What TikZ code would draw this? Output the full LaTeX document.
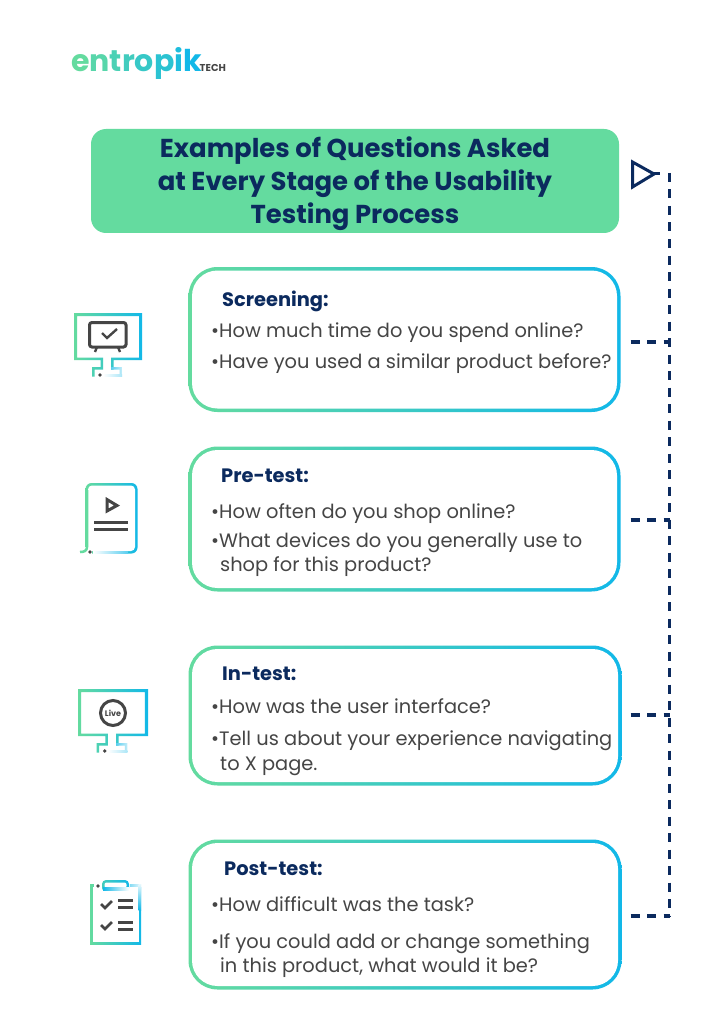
\documentclass[tikz,border=0pt]{standalone}
\usepackage{fontspec}
\setmainfont{Poppins}
\usetikzlibrary{shapes.geometric}
\definecolor{navy}{HTML}{0B2A5E}
\definecolor{mint}{HTML}{64DB9F}
\definecolor{aqua}{HTML}{12B8E8}
\definecolor{ink}{HTML}{454545}
\tikzset{
  pics/screen/.style={code={
    \shade[left color=mint, right color=aqua]
      (0,0) rectangle (68,3) (0,0) rectangle (3,47) (65,0) rectangle (68,47)
      (0,44.5) rectangle (29,47) (37,44.5) rectangle (68,47)
      (26.5,44.5) rectangle (29,56.5) (37,44.5) rectangle (39.5,56.5)
      (18,54) rectangle (29,56.5) (18,54) rectangle (20.5,63.5);
    \shade[left color=aqua!70, right color=aqua!25] (37,54) rectangle (48,56.5) (45.5,54) rectangle (48,63.5);
    \shade[left color=white, right color=aqua!35] (29,61) rectangle (48,63.5);
    \fill[ink] (26,62) circle (1.8pt);
  }}
}
\begin{document}
\begin{tikzpicture}[x=1pt, y=-1pt]
        \tikzstyle{gradbox}=[rounded corners=29pt, left color=mint, middle color=mint!45!aqua, right color=aqua, inner sep=0pt]
        \tikzstyle{innerbox}=[rounded corners=25.5pt, fill=white, inner sep=0pt]
        \tikzstyle{titlebox}=[rounded corners=15pt, fill=mint, inner sep=0pt]
        \tikzstyle{ttl}=[font=\fontsize{25.9}{30}\selectfont\bfseries, text=navy, anchor=base]
        \tikzstyle{hd}=[font=\fontsize{19.4}{23}\selectfont\bfseries, text=navy, anchor=base west, inner sep=0pt]
        \tikzstyle{ln}=[font=\fontsize{19.4}{23}\selectfont, text=ink, anchor=base west, inner sep=0pt]
        \tikzstyle{glyph}=[line width=3pt, draw=ink]
        \tikzstyle{late}=[navy, line width=3.6pt, dash pattern=on 9pt off 7.5pt]

        \useasboundingbox (0,0) rectangle (709,1024);
        \fill[white] (0,0) rectangle (709,1024);

        \node[anchor=base west, inner sep=0pt, font=\fontsize{30}{34}\selectfont\bfseries] (LOGO) at (71,72)
          {\textcolor{mint}{e}\textcolor{mint!85!aqua}{n}\textcolor{mint!70!aqua}{t}\textcolor{mint!58!aqua}{r}\textcolor{mint!45!aqua}{o}\textcolor{mint!30!aqua}{p}\textcolor{mint!15!aqua}{i}\textcolor{aqua}{k}};
        \node[anchor=base west, inner sep=0pt, text=ink, font=\fontsize{10}{11}\selectfont\bfseries] (TECH) at (199.5,72) {TECH};

        \node[titlebox, minimum width=528pt, minimum height=104pt] (T) at (355,181) {};
        \node[ttl] (T1) at (355,158) {Examples of Questions Asked};
        \node[ttl] (T2) at (355,190.5) {at Every Stage of the Usability};
        \node[ttl] (T3) at (355,223) {Testing Process};

        \node[gradbox, minimum width=432pt, minimum height=145pt] (B1) at (404.5,339.5) {};
        \node[innerbox, minimum width=425pt, minimum height=138pt] (I1) at (B1) {};
        \node[gradbox, minimum width=432pt, minimum height=145pt] (B2) at (404.5,519) {};
        \node[innerbox, minimum width=425pt, minimum height=138pt] (I2) at (B2) {};
        \node[gradbox, minimum width=433pt, minimum height=140pt] (B3) at (405,715.5) {};
        \node[innerbox, minimum width=426pt, minimum height=133pt] (I3) at (B3) {};
        \node[gradbox, minimum width=433pt, minimum height=150pt] (B4) at (405,914.5) {};
        \node[innerbox, minimum width=426pt, minimum height=143pt] (I4) at (B4) {};

        \node[hd] (H1) at (222,306) {Screening:};
        \node[ln] (L11) at (211,337) {•How much time do you spend online?};
        \node[ln] (L12) at (211,368) {•Have you used a similar product before?};
        \node[hd] (H2) at (221,482) {Pre-test:};
        \node[ln] (L21) at (211,518) {•How often do you shop online?};
        \node[ln] (L22) at (211,547) {•What devices do you generally use to};
        \node[ln] (L23) at (220,571) {shop for this product?};
        \node[hd] (H3) at (222,680) {In-test:};
        \node[ln] (L31) at (211,713) {•How was the user interface?};
        \node[ln] (L32) at (211,745) {•Tell us about your experience navigating};
        \node[ln] (L33) at (220,770) {to X page.};
        \node[hd] (H4) at (224,875) {Post-test:};
        \node[ln] (L41) at (211,911) {•How difficult was the task?};
        \node[ln] (L42) at (211,948) {•If you could add or change something};
        \node[ln] (L43) at (220,972) {in this product, what would it be?};

        \pic at (74,313) {screen};
        \draw[glyph, rounded corners=2.5pt] (89.5,322.5) rectangle (126,347);
        \draw[glyph, line width=2.4pt] (97,347) -- (95,352) (118,347) -- (120,352);
        \draw[glyph, line width=2.4pt] (102,333) -- (107,338) -- (117,329);

        \shade[rounded corners=6pt, left color=mint, right color=aqua] (85.5,483) rectangle (137.5,553.5);
        \fill[white, rounded corners=4pt] (88,485.5) rectangle (135,551);
        \fill[white] (84,547) rectangle (92,554);
        \draw[mint, line width=2.5pt] (87,490) -- (87,547) .. controls (87,551) and (84,552) .. (80,552);
        \shade[left color=white, right color=aqua!70] (93,551) rectangle (128,553.5);
        \fill[ink] (90,552) circle (1.8pt);
        \draw[glyph, line join=miter, line width=3pt] (107,499.5) -- (117,505.5) -- (107,511) -- cycle;
        \draw[glyph] (94,522) -- (128,522) (94,529) -- (128,529);

        \pic[xscale=1.03] at (78,689) {screen};
        \draw[glyph] (113,713) circle (12.5pt);
        \node[text=ink, inner sep=0pt, font=\fontsize{8}{9}\selectfont\bfseries] (LIVE) at (113,713) {Live};

        \shade[left color=mint, right color=aqua] (90,884) rectangle (141,944);
        \fill[white] (92.5,886.5) rectangle (138.5,941.5);
        \fill[white] (94,882) rectangle (142,887);
        \fill[white] (137,882) rectangle (142,887);
        \shade[left color=mint!60!aqua, right color=aqua, rounded corners=4pt] (102,880) rectangle (129,892);
        \fill[white, rounded corners=2pt] (104.5,882.5) rectangle (126.5,888);
        \fill[white] (101,890) rectangle (130,893);
        \shade[left color=aqua, right color=white] (103,887.5) rectangle (129,890);
        \shade[left color=aqua!50, right color=aqua!10] (130,884) rectangle (141,886.5);
        \shade[top color=aqua!10, bottom color=aqua] (138.5,884) rectangle (141,910);
        \fill[ink] (98,886) circle (1.8pt);
        \draw[glyph, line width=2.6pt] (101,904) -- (105,908) -- (112,901) (101,925) -- (105,929) -- (112,922);
        \draw[glyph] (118,900) -- (133,900) (118,907) -- (133,907) (118,922) -- (133,922) (118,929) -- (133,929);

        \coordinate (TOP) at (669.5,173);
        \coordinate (J1) at (669.5,342);
        \coordinate (J2) at (669.5,520);
        \coordinate (J3) at (669.5,715);
        \coordinate (J4) at (669.5,916);
        \coordinate (S1) at (630.5,342);
        \coordinate (S2) at (630.5,520);
        \coordinate (S3) at (630.5,715);
        \coordinate (S4) at (630.5,916);
        \coordinate (TR1) at (632.5,162);
        \coordinate (TR2) at (632.5,187);
        \coordinate (TR3) at (654,174);
        \coordinate (TR4) at (660,174);

        \draw[navy, line width=3pt, line join=miter] (TR1) -- (TR3) -- (TR2) -- cycle;
        \draw[navy, line width=3pt] (TR3) -- (TR4);
        \draw[late] (TOP) -- (J4);
        \draw[late] (S1) -- (J1);
        \draw[late] (S2) -- (J2);
        \draw[late] (S3) -- (J3);
        \draw[late] (S4) -- (J4);
\end{tikzpicture}
\end{document}
